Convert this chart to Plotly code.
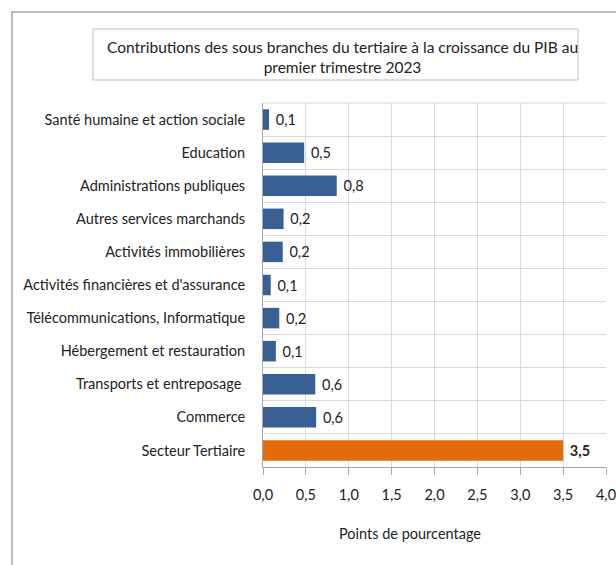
import plotly.graph_objects as go

categories = [
    "Santé humaine et action sociale",
    "Education",
    "Administrations publiques",
    "Autres services marchands",
    "Activités immobilières",
    "Activités financières et d'assurance",
    "Télécommunications, Informatique",
    "Hébergement et restauration",
    "Transports et entreposage ",
    "Commerce",
    "Secteur Tertiaire",
]
values = [0.07, 0.48, 0.86, 0.24, 0.23, 0.09, 0.19, 0.15, 0.61, 0.62, 3.5]
value_labels = ["0,1", "0,5", "0,8", "0,2", "0,2", "0,1", "0,2", "0,1", "0,6", "0,6", "<b>3,5</b>"]
bar_colors = ["#386092"] * 10 + ["#E46C0A"]
x_ticks = [0, 0.5, 1.0, 1.5, 2.0, 2.5, 3.0, 3.5, 4.0]

title_text = "Contributions des sous branches du tertiaire à la croissance du PIB au<br>premier trimestre 2023"
x_title = "Points de pourcentage"

FONT = "Lato"
W, H = 616, 565
L, R, T, B = 263, 10, 103, 98
pw, ph = W - L - R, H - T - B

def px_x(p):
    return (p - L) / pw

def px_y(p):
    return 1 - (p - T) / ph

fig = go.Figure(
    go.Bar(
        x=values,
        y=categories,
        orientation="h",
        marker=dict(color=bar_colors, line=dict(width=0)),
        text=value_labels,
        texttemplate="\u00a0%{text}",
        textposition="outside",
        textfont=dict(family=FONT, size=14.5, color="#222222"),
        cliponaxis=False,
        width=0.62,
    )
)

fig.update_layout(
    width=W,
    height=H,
    margin=dict(l=L, r=R, t=T, b=B, autoexpand=False),
    paper_bgcolor="white",
    plot_bgcolor="white",
    separators=", ",
    showlegend=False,
    font=dict(family=FONT, size=14.5, color="#222222"),
    xaxis=dict(
        range=[0, 4],
        tickvals=x_ticks,
        tickformat=".1f",
        automargin=False,
        ticklabeloverflow="allow",
        showgrid=True,
        gridcolor="#D9D9D9",
        gridwidth=1,
        ticks="outside",
        ticklen=7,
        tickcolor="#A6A6A6",
        ticklabelstandoff=8,
        showline=True,
        linecolor="#A6A6A6",
        linewidth=1,
        zeroline=False,
        tickfont=dict(family=FONT, size=14.5, color="#222222"),
        fixedrange=True,
    ),
    yaxis=dict(
        type="category",
        autorange="reversed",
        automargin=False,
        tickson="boundaries",
        showgrid=True,
        gridcolor="#D9D9D9",
        gridwidth=1,
        ticks="",
        showline=True,
        linecolor="#A6A6A6",
        linewidth=1,
        ticklabelstandoff=14,
        tickfont=dict(family=FONT, size=14.5, color="#222222"),
        fixedrange=True,
    ),
    shapes=[
        dict(type="rect", xref="paper", yref="paper",
             x0=px_x(12), x1=px_x(640), y0=px_y(12), y1=px_y(600),
             line=dict(color="#A6A6A6", width=1.5), fillcolor="rgba(0,0,0,0)", layer="below"),
        dict(type="rect", xref="paper", yref="paper",
             x0=px_x(93), x1=px_x(578), y0=px_y(29), y1=px_y(80),
             line=dict(color="#BFBFBF", width=1), fillcolor="white", layer="below"),
        dict(type="line", xref="paper", yref="paper",
             x0=0, x1=1, y0=1, y1=1, line=dict(color="#D9D9D9", width=1)),
    ],
    annotations=[
        dict(text=title_text, xref="paper", yref="paper",
             x=px_x(342), y=px_y(57), xanchor="center", yanchor="middle",
             showarrow=False, font=dict(family=FONT, size=15.5, color="#222222")),
        dict(text=x_title, xref="paper", yref="paper",
             x=px_x(410), y=px_y(533), xanchor="center", yanchor="middle",
             showarrow=False, font=dict(family=FONT, size=14.5, color="#222222")),
    ],
)

fig.write_html(
    "out.html",
    config={"displayModeBar": False},
    post_script="document.body.style.margin='0px';",
)
